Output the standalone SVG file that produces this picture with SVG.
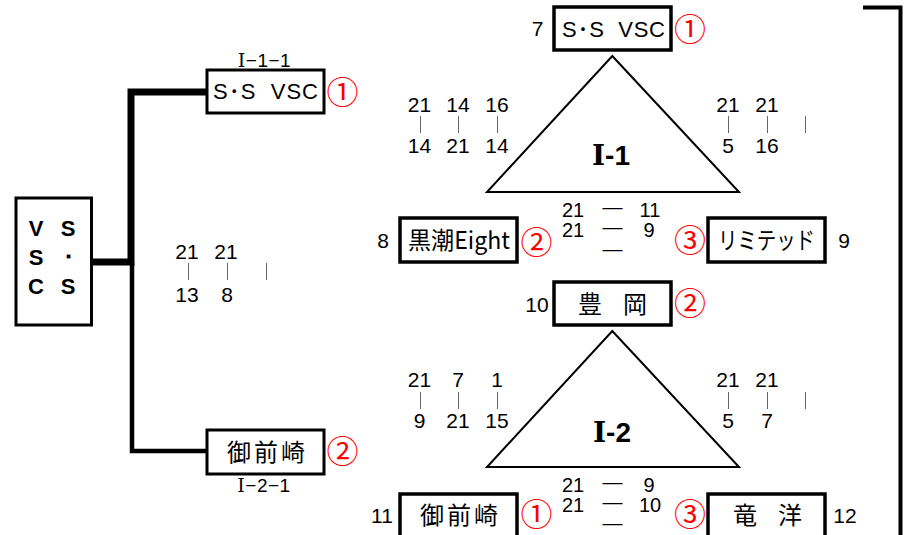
<svg xmlns="http://www.w3.org/2000/svg" width="913" height="535" viewBox="0 0 913 535">
<style>
.box{fill:#fff;stroke:#000;stroke-width:3}
.boxr{fill:#fff;stroke:#000;stroke-width:3.5}
.tri{fill:#fff;stroke:#000;stroke-width:2}
.nm{font-family:"Liberation Sans","Noto Sans CJK JP",sans-serif;font-size:22px;text-anchor:middle;fill:#000}
.jp{font-family:"Noto Sans CJK JP",sans-serif;font-size:24px;text-anchor:middle;fill:#000}
.sc{font-family:"Liberation Sans",sans-serif;font-size:21px;text-anchor:middle;fill:#000}
.sm{font-family:"Liberation Sans",sans-serif;font-size:20px;text-anchor:middle;fill:#000}
.tk{stroke:#666;stroke-width:1}
.rk{font-family:"Noto Sans CJK JP",sans-serif;font-size:32px;text-anchor:middle;fill:#f00}
.lbl{font-family:"Liberation Sans",sans-serif;font-size:19px;text-anchor:middle;fill:#000;letter-spacing:0.5px}
.rn{font-family:"DejaVu Serif","Liberation Serif",serif}
.big{font-family:"Liberation Sans",sans-serif;font-size:28px;font-weight:bold;text-anchor:middle;fill:#000}
.vs{font-family:"Liberation Sans",sans-serif;font-size:22px;font-weight:bold;text-anchor:middle;fill:#000}
</style>

<g id="connectors" fill="none" stroke="#000">
  <path d="M91 262 H131 V92 H208" stroke-width="7"/>
  <path d="M132 262 V451 H208" stroke-width="4.5"/>
  <path d="M863 7.5 H900.5 V535" stroke-width="4"/>
</g>

<g id="champion">
  <rect class="box" x="16" y="198" width="75.5" height="127"/>
  <text class="vs" x="36" y="236">V</text><text class="vs" x="68" y="236">S</text>
  <text class="vs" x="36" y="265">S</text><text class="vs" x="68" y="265">･</text>
  <text class="vs" x="36" y="294">C</text><text class="vs" x="68" y="294">S</text>
</g>

<g id="final-top">
  <text class="lbl" x="264.5" y="67"><tspan class="rn">Ⅰ</tspan>−1−1</text>
  <rect class="box" x="207" y="70" width="117" height="43"/>
  <text class="nm" x="265.5" y="99" xml:space="preserve" textLength="105" lengthAdjust="spacing">S･S  VSC</text>
  <text class="rk" x="342.5" y="104">①</text>
</g>

<g id="final-bottom">
  <rect class="box" x="207" y="430" width="117" height="44"/>
  <text class="jp" x="266" y="461" textLength="78" lengthAdjust="spacing">御前崎</text>
  <text class="rk" x="342.5" y="463">②</text>
  <text class="lbl" x="264" y="492"><tspan class="rn">Ⅰ</tspan>−2−1</text>
</g>

<g id="final-scores">
  <text class="sc" x="187" y="259">21</text><text class="sc" x="226" y="259">21</text>
  <line class="tk" x1="188.5" y1="263" x2="188.5" y2="280"/><line class="tk" x1="227.5" y1="263" x2="227.5" y2="280"/><line class="tk" x1="266.5" y1="263" x2="266.5" y2="280"/>
  <text class="sc" x="187" y="302">13</text><text class="sc" x="227" y="302">8</text>
</g>

<g id="pool-1">
  <polygon class="tri" points="612.3,56 739,192 487,192"/>
  <text class="big" x="611" y="165"><tspan class="rn">Ⅰ</tspan>-1</text>
</g>

<g id="team-7">
  <text class="sc" x="537.5" y="36">7</text>
  <rect class="boxr" x="554" y="7" width="117" height="43"/>
  <text class="nm" x="613.5" y="37" xml:space="preserve" textLength="103" lengthAdjust="spacing">S･S  VSC</text>
  <text class="rk" x="690" y="41">①</text>
</g>

<g id="team-8">
  <text class="sc" x="383" y="248">8</text>
  <rect class="boxr" x="400" y="218" width="117" height="44"/>
  <text class="jp" x="459" y="249" textLength="102" lengthAdjust="spacingAndGlyphs">黒潮Eight</text>
  <text class="rk" x="536.5" y="254">②</text>
</g>

<g id="team-9">
  <rect class="boxr" x="708" y="218" width="117" height="44"/>
  <text class="jp" x="766.5" y="249" textLength="97" lengthAdjust="spacingAndGlyphs">リミテッド</text>
  <text class="rk" x="690" y="252">③</text>
  <text class="sc" x="844" y="248">9</text>
</g>

<g id="pool-1-scores">
  <text class="sc" x="419.5" y="112">21</text><text class="sc" x="458" y="112">14</text><text class="sc" x="497" y="112">16</text>
  <line class="tk" x1="420.5" y1="116" x2="420.5" y2="133"/><line class="tk" x1="458.5" y1="116" x2="458.5" y2="133"/><line class="tk" x1="497.5" y1="116" x2="497.5" y2="133"/>
  <text class="sc" x="419.5" y="153">14</text><text class="sc" x="458" y="153">21</text><text class="sc" x="497" y="153">14</text>
  <text class="sc" x="728" y="112">21</text><text class="sc" x="767" y="112">21</text>
  <line class="tk" x1="728.5" y1="116" x2="728.5" y2="133"/><line class="tk" x1="767.5" y1="116" x2="767.5" y2="133"/><line class="tk" x1="805.5" y1="116" x2="805.5" y2="133"/>
  <text class="sc" x="728" y="153">5</text><text class="sc" x="767" y="153">16</text>
  <text class="sm" x="573" y="217">21</text><text class="sm" x="612.5" y="214">—</text><text class="sm" x="650" y="217">11</text>
  <text class="sm" x="573" y="237">21</text><text class="sm" x="612.5" y="234">—</text><text class="sm" x="649" y="237">9</text>
  <text class="sm" x="612.5" y="256">—</text>
</g>

<g id="pool-2">
  <polygon class="tri" points="612.3,331 739,467 487,467"/>
  <text class="big" x="612" y="442"><tspan class="rn">Ⅰ</tspan>-2</text>
</g>

<g id="team-10">
  <text class="sc" x="537" y="312">10</text>
  <rect class="boxr" x="554" y="282" width="117" height="43"/>
  <text class="jp" x="612.5" y="313" textLength="69" lengthAdjust="spacing">豊　岡</text>
  <text class="rk" x="690" y="315">②</text>
</g>

<g id="team-11">
  <text class="sc" x="382" y="523">11</text>
  <rect class="boxr" x="400" y="494" width="117" height="50"/>
  <text class="jp" x="459" y="524" textLength="78" lengthAdjust="spacing">御前崎</text>
  <text class="rk" x="536.5" y="526">①</text>
</g>

<g id="team-12">
  <rect class="boxr" x="708" y="494" width="117" height="50"/>
  <text class="jp" x="767.5" y="524" textLength="69" lengthAdjust="spacing">竜　洋</text>
  <text class="rk" x="690" y="526">③</text>
  <text class="sc" x="845" y="523">12</text>
</g>

<g id="pool-2-scores">
  <text class="sc" x="419.5" y="387">21</text><text class="sc" x="458" y="387">7</text><text class="sc" x="497" y="387">1</text>
  <line class="tk" x1="420.5" y1="392" x2="420.5" y2="409"/><line class="tk" x1="458.5" y1="392" x2="458.5" y2="409"/><line class="tk" x1="497.5" y1="392" x2="497.5" y2="409"/>
  <text class="sc" x="419.5" y="428">9</text><text class="sc" x="458" y="428">21</text><text class="sc" x="497" y="428">15</text>
  <text class="sc" x="728" y="387">21</text><text class="sc" x="767" y="387">21</text>
  <line class="tk" x1="728.5" y1="392" x2="728.5" y2="409"/><line class="tk" x1="767.5" y1="392" x2="767.5" y2="409"/><line class="tk" x1="805.5" y1="392" x2="805.5" y2="409"/>
  <text class="sc" x="728" y="428">5</text><text class="sc" x="767" y="428">7</text>
  <text class="sm" x="573" y="492">21</text><text class="sm" x="612.5" y="489">—</text><text class="sm" x="649" y="492">9</text>
  <text class="sm" x="573" y="512">21</text><text class="sm" x="612.5" y="509">—</text><text class="sm" x="650" y="512">10</text>
  <text class="sm" x="612.5" y="530">—</text>
</g>
</svg>
